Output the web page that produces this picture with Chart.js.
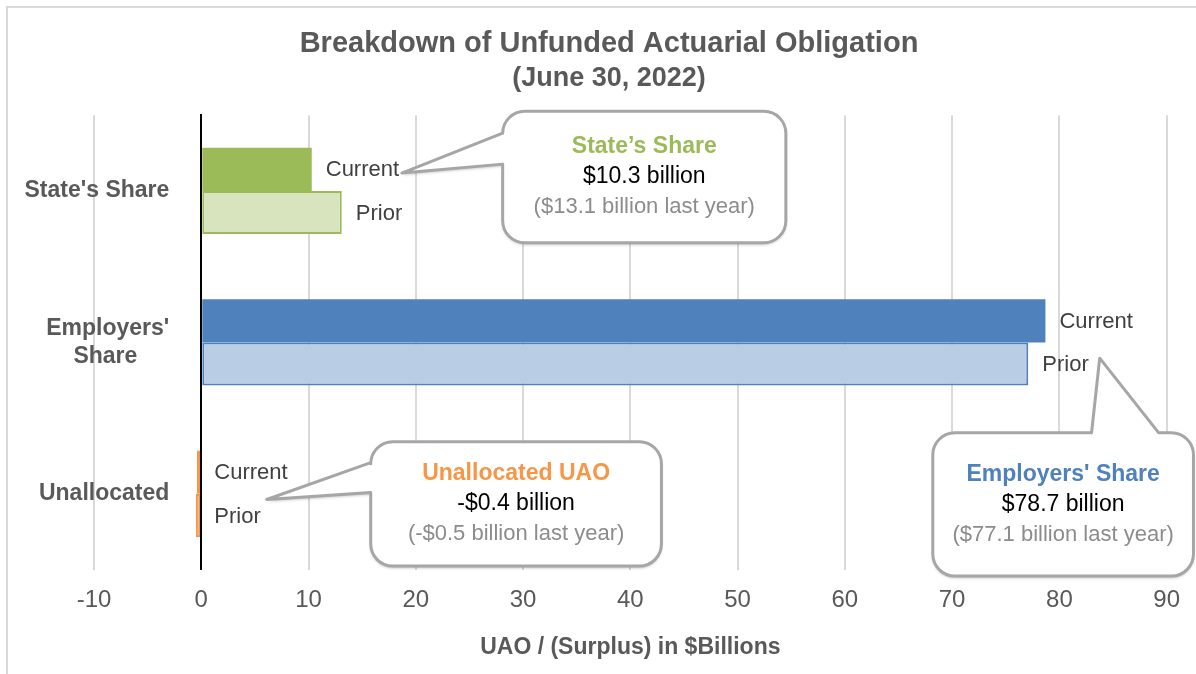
<!DOCTYPE html>
<html>
<head>
<meta charset="utf-8">
<script src="https://cdn.jsdelivr.net/npm/chart.js@4.4.0/dist/chart.umd.min.js"></script>
<style>
  html, body { margin: 0; padding: 0; background: #fff; }
  canvas { display: block; }
</style>
</head>
<body>
<canvas id="uaoChart" width="1196" height="674"></canvas>
<script>
// Values, $ billions
const categories = ["State's Share", ["Employers'", 'Share'], 'Unallocated'];
const currentValues = [10.3, 78.7, -0.4];
const priorValues = [13.1, 77.1, -0.5];
const calloutTitles = ['State\u2019s Share', "Employers' Share", 'Unallocated UAO'];
const xMin = -10, xMax = 90, xStep = 10;

const currentColors = ['#9BBB59', '#4F81BD', '#F79646'];
const priorColors = ['#D7E4BD', '#B9CDE5', '#FCD5B5'];
const FONT = '"Liberation Sans", Arial, sans-serif';
const GREY = '#595959';

// callout shapes in axis units (x: $ billions, y: category index)
const callouts = [
  { cat: 0, box: [28.1, 54.5, -0.526, 0.342], side: 'left', attach: [-0.381, -0.177], tip: [18.7, -0.118] },
  { cat: 1, box: [68.2, 92.5, 1.597, 2.543], side: 'top', attach: [83.0, 89.26], tip: [83.76, 1.104] },
  { cat: 2, box: [15.8, 42.9, 1.656, 2.477], side: 'left', attach: [1.794, 1.991], tip: [6.1, 2.037] }
];

function money(v) {
  return (v < 0 ? '-$' : '$') + Math.abs(v).toFixed(1);
}

// y labels sit right of the zero line; chart.js ignores tick padding for
// axes placed at a value, so pad with spaces (and centre multi-line labels)
const measureCtx = document.createElement('canvas').getContext('2d');
function padLabel(label) {
  measureCtx.font = 'bold 23px ' + FONT;
  const sp = measureCtx.measureText(' ').width;
  const lines = [].concat(label);
  const widest = Math.max(...lines.map(l => measureCtx.measureText(l).width));
  const out = lines.map(l => {
    const extra = Math.round((widest - measureCtx.measureText(l).width) / 2 / sp);
    return l + ' '.repeat(extra + 5);
  });
  return out.length > 1 ? out : out[0];
}

Chart.defaults.font.family = FONT;

const frame = {
  id: 'frame',
  beforeDraw(chart) {
    const { ctx, width, height } = chart;
    ctx.save();
    ctx.fillStyle = '#fff';
    ctx.fillRect(0, 0, width, height);
    ctx.strokeStyle = '#D9D9D9';
    ctx.lineWidth = 2;
    ctx.beginPath();
    ctx.moveTo(7, height);
    ctx.lineTo(7, 7);
    ctx.lineTo(width, 7);
    ctx.stroke();
    ctx.restore();
  }
};

const barLabels = {
  id: 'barLabels',
  afterDatasetsDraw(chart) {
    const ctx = chart.ctx;
    ctx.save();
    ctx.font = '22px ' + FONT;
    ctx.fillStyle = '#404040';
    ctx.textBaseline = 'middle';
    ctx.textAlign = 'left';
    chart.data.datasets.forEach((ds, di) => {
      chart.getDatasetMeta(di).data.forEach(bar => {
        ctx.fillText(ds.label, Math.max(bar.x, bar.base) + 14, bar.y + 1);
      });
    });
    ctx.restore();
  }
};

function calloutPath(ctx, c, xs, ys) {
  const x0 = xs.getPixelForValue(c.box[0]), x1 = xs.getPixelForValue(c.box[1]);
  const y0 = ys.getPixelForValue(c.box[2]), y1 = ys.getPixelForValue(c.box[3]);
  const tx = xs.getPixelForValue(c.tip[0]), ty = ys.getPixelForValue(c.tip[1]);
  const r = 22;
  ctx.beginPath();
  ctx.moveTo(x0 + r, y0);
  if (c.side === 'top') {
    ctx.lineTo(xs.getPixelForValue(c.attach[0]), y0);
    ctx.lineTo(tx, ty);
    ctx.lineTo(xs.getPixelForValue(c.attach[1]), y0);
  }
  ctx.arcTo(x1, y0, x1, y0 + r, r);
  ctx.arcTo(x1, y1, x1 - r, y1, r);
  ctx.arcTo(x0, y1, x0, y1 - r, r);
  if (c.side === 'left') {
    ctx.lineTo(x0, ys.getPixelForValue(c.attach[1]));
    ctx.lineTo(tx, ty);
    ctx.lineTo(x0, ys.getPixelForValue(c.attach[0]));
  }
  ctx.arcTo(x0, y0, x0 + r, y0, r);
  ctx.closePath();
  return { cx: (x0 + x1) / 2, cy: (y0 + y1) / 2 };
}

const calloutPlugin = {
  id: 'callouts',
  afterDraw(chart) {
    const { ctx } = chart;
    const xs = chart.scales.x, ys = chart.scales.y;
    callouts.forEach(c => {
      ctx.save();
      const { cx, cy } = calloutPath(ctx, c, xs, ys);
      ctx.shadowColor = 'rgba(0,0,0,0.25)';
      ctx.shadowOffsetY = 2;
      ctx.shadowBlur = 3;
      ctx.fillStyle = '#fff';
      ctx.fill();
      ctx.shadowColor = 'transparent';
      ctx.strokeStyle = '#A6A6A6';
      ctx.lineWidth = 3;
      ctx.lineJoin = 'round';
      ctx.stroke();

      ctx.textAlign = 'center';
      ctx.textBaseline = 'middle';
      ctx.font = 'bold 23px ' + FONT;
      ctx.fillStyle = currentColors[c.cat];
      ctx.fillText(calloutTitles[c.cat], cx, cy - 30);
      ctx.font = '23px ' + FONT;
      ctx.fillStyle = '#000';
      ctx.fillText(money(currentValues[c.cat]) + ' billion', cx, cy);
      ctx.font = '22px ' + FONT;
      ctx.fillStyle = '#8C8C8C';
      ctx.fillText('(' + money(priorValues[c.cat]) + ' billion last year)', cx, cy + 30);
      ctx.restore();
    });
  }
};

new Chart(document.getElementById('uaoChart'), {
  type: 'bar',
  data: {
    labels: categories,
    datasets: [
      {
        label: 'Current',
        data: currentValues,
        backgroundColor: currentColors,
        borderWidth: 0
      },
      {
        label: 'Prior',
        data: priorValues,
        backgroundColor: priorColors,
        borderColor: currentColors,
        borderWidth: 2,
        borderSkipped: false
      }
    ]
  },
  options: {
    indexAxis: 'y',
    responsive: false,
    animation: false,
    datasets: { bar: { categoryPercentage: 0.57, barPercentage: 1 } },
    layout: { padding: { left: 50, right: 28, top: 0, bottom: 13 } },
    plugins: {
      legend: { display: false },
      tooltip: { enabled: false },
      title: {
        display: true,
        text: 'Breakdown of Unfunded Actuarial Obligation',
        color: GREY,
        font: { size: 29, weight: 'bold' },
        padding: { top: 27, bottom: 0 }
      },
      subtitle: {
        display: true,
        text: '(June 30, 2022)',
        color: GREY,
        font: { size: 27, weight: 'bold' },
        padding: { top: 1, bottom: 20 }
      }
    },
    scales: {
      x: {
        min: xMin,
        max: xMax,
        ticks: { stepSize: xStep, color: GREY, font: { size: 24 }, padding: 16, maxRotation: 0 },
        grid: { color: '#D9D9D9', lineWidth: 2, drawTicks: false },
        border: { display: false },
        title: {
          display: true,
          text: 'UAO / (Surplus) in $Billions',
          color: GREY,
          font: { size: 23, weight: 'bold' },
          padding: { top: 3, bottom: 0 }
        }
      },
      y: {
        position: { x: 0 },
        grid: { display: false, drawTicks: false },
        border: { color: '#000', width: 2, z: 1 },
        ticks: {
          color: GREY,
          font: { size: 23, weight: 'bold' },
          callback: (v, i) => padLabel(categories[i])
        }
      },
      // empty spacer on the left so the title centres like the original
      yPad: {
        type: 'category',
        position: 'left',
        ticks: { display: false },
        grid: { display: false },
        border: { display: false },
        afterFit: s => { s.width = 44; }
      }
    }
  },
  plugins: [frame, barLabels, calloutPlugin]
});
</script>
</body>
</html>
